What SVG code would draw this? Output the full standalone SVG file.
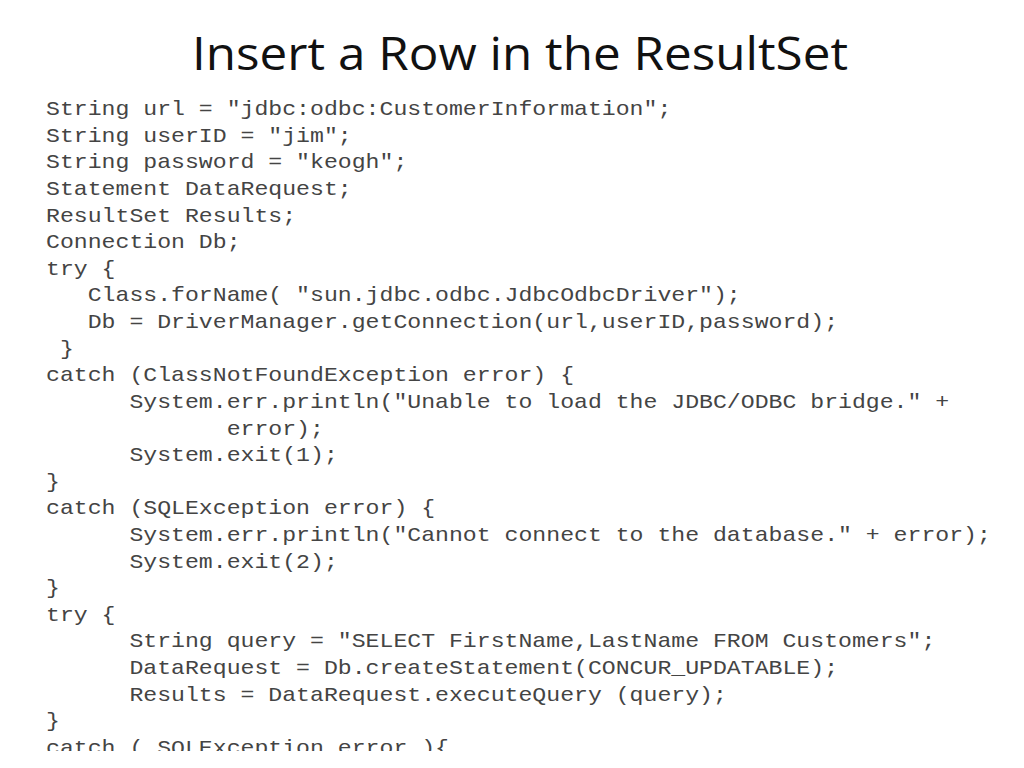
<svg xmlns="http://www.w3.org/2000/svg" width="1024" height="768" viewBox="0 0 1024 768">
<style>
.t{font-family:"Open Sans","Liberation Sans",sans-serif;font-size:46px;fill:#111}
.c{font-family:"Liberation Mono","Courier New",monospace;font-size:20px;fill:#444;white-space:pre}
</style>
<defs><clipPath id="cl"><rect x="0" y="0" width="1024" height="751"/></clipPath></defs>
<rect width="1024" height="768" fill="#fff"/>
<g id="title"><text class="t" x="192" y="70" textLength="656" lengthAdjust="spacingAndGlyphs">Insert a Row in the ResultSet</text></g>
<g id="code" clip-path="url(#cl)">
<g transform="scale(1.159,1)">
<text class="c" x="39.7" y="115">String url = "jdbc:odbc:CustomerInformation";</text>
<text class="c" x="39.7" y="142">String userID = "jim";</text>
<text class="c" x="39.7" y="168.5">String password = "keogh";</text>
<text class="c" x="39.7" y="195">Statement DataRequest;</text>
<text class="c" x="39.7" y="222">ResultSet Results;</text>
<text class="c" x="39.7" y="248.5">Connection Db;</text>
<text class="c" x="39.7" y="275">try {</text>
<text class="c" x="39.7" y="301.5">   Class.forName( "sun.jdbc.odbc.JdbcOdbcDriver");</text>
<text class="c" x="39.7" y="328">   Db = DriverManager.getConnection(url,userID,password);</text>
<text class="c" x="39.7" y="355"> }</text>
<text class="c" x="39.7" y="381.5">catch (ClassNotFoundException error) {</text>
<text class="c" x="39.7" y="408">      System.err.println("Unable to load the JDBC/ODBC bridge." +</text>
<text class="c" x="39.7" y="435">             error);</text>
<text class="c" x="39.7" y="461.5">      System.exit(1);</text>
<text class="c" x="39.7" y="488">}</text>
<text class="c" x="39.7" y="514.5">catch (SQLException error) {</text>
<text class="c" x="39.7" y="541">      System.err.println("Cannot connect to the database." + error);</text>
<text class="c" x="39.7" y="568">      System.exit(2);</text>
<text class="c" x="39.7" y="594.5">}</text>
<text class="c" x="39.7" y="621">try {</text>
<text class="c" x="39.7" y="647.5">      String query = "SELECT FirstName,LastName FROM Customers";</text>
<text class="c" x="39.7" y="674">      DataRequest = Db.createStatement(CONCUR_UPDATABLE);</text>
<text class="c" x="39.7" y="701">      Results = DataRequest.executeQuery (query);</text>
<text class="c" x="39.7" y="727.5">}</text>
<text class="c" x="39.7" y="754">catch ( SQLException error ){</text>
</g>
</g>
</svg>
